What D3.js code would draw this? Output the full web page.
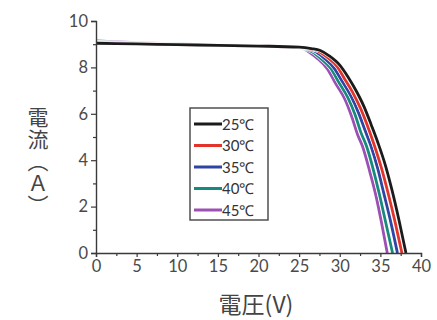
<!DOCTYPE html>
<html><head><meta charset="utf-8">
<script src="https://cdn.jsdelivr.net/npm/d3@7/dist/d3.min.js"></script>
<style>
html,body{margin:0;padding:0;background:#fff;}
svg{display:block;}
</style></head>
<body>
<svg id="c" width="437" height="320"></svg>
<script>
const temps = ["25℃","30℃","35℃","40℃","45℃"];
const colors = ["#1b1b1b","#e3342c","#2f45a3","#178a7c","#9d50b3"];
const xTicks = [0,5,10,15,20,25,30,35,40];
const yTicks = [0,2,4,6,8,10];
const s25 = [[0,9.04],[5,9.01],[10,8.98],[15,8.95],[20,8.92],[25,8.87],[26.5,8.81],[27.6,8.73],[28.7,8.5],[30.0,8.1],[31.0,7.6],[32.1,6.94],[33.0,6.3],[33.9,5.5],[34.7,4.75],[35.6,3.8],[36.4,2.75],[37.3,1.4],[38.15,0]];
const s30 = [[0,9.06],[5,9.02],[10,8.98],[15,8.95],[20,8.92],[25,8.86],[26.3,8.8],[27.3,8.71],[28.4,8.45],[29.7,8.02],[30.6,7.5],[31.7,6.85],[32.6,6.2],[33.5,5.4],[34.2,4.7],[35.1,3.7],[35.9,2.65],[36.8,1.35],[37.65,0]];
const s35 = [[0,9.08],[5,9.03],[10,8.99],[15,8.95],[20,8.92],[25,8.85],[26.1,8.79],[27.0,8.68],[28.0,8.42],[29.3,7.97],[30.3,7.4],[31.4,6.75],[32.3,6.05],[33.1,5.3],[33.8,4.65],[34.7,3.6],[35.4,2.6],[36.3,1.3],[37.1,0]];
const s40 = [[0,9.1],[5,9.05],[10,9.0],[15,8.96],[20,8.92],[25,8.84],[25.9,8.78],[26.7,8.65],[27.6,8.4],[28.9,7.95],[29.9,7.35],[31.0,6.7],[31.9,5.95],[32.6,5.2],[33.3,4.6],[34.2,3.5],[34.9,2.5],[35.7,1.25],[36.5,0]];
const s45 = [[0,9.14],[5,9.07],[10,9.01],[15,8.97],[20,8.93],[25,8.84],[25.7,8.77],[26.4,8.62],[27.2,8.4],[28.5,7.92],[29.5,7.3],[30.6,6.65],[31.5,5.85],[32.2,5.1],[32.8,4.6],[33.7,3.5],[34.5,2.4],[35.2,1.2],[35.85,0]];
const series = [s25,s30,s35,s40,s45];

const svg = d3.select("#c");
const x = d3.scaleLinear().domain([0,40]).range([96,421]);
const y = d3.scaleLinear().domain([0,10]).range([253,21]);
const axisColor = "#3a3a3a";
const numFont = "Lato, 'Open Sans', sans-serif";

const line = d3.line().x(d=>x(d[0])).y(d=>y(d[1])).curve(d3.curveMonotoneX);
const g = svg.append("g");
for (let i = series.length-1; i >= 0; i--) {
  g.append("path").attr("d", line(series[i])).attr("fill","none")
    .attr("stroke","#fff").attr("stroke-width",4).attr("stroke-linejoin","round");
  g.append("path").attr("d", line(series[i])).attr("fill","none")
    .attr("stroke",colors[i]).attr("stroke-width",2.8).attr("stroke-linejoin","round");
}

const xAxis = d3.axisBottom(x).tickValues(xTicks).tickSize(4).tickPadding(3);
const xMinor = d3.axisBottom(x).tickValues(d3.range(2.5,40,5)).tickSize(3).tickFormat("");
const yAxis = d3.axisLeft(y).tickValues(yTicks).tickSize(5).tickPadding(3);
const yMinor = d3.axisLeft(y).tickValues([1,3,5,7,9]).tickSize(3).tickFormat("");
function style(sel){
  sel.select(".domain").attr("stroke",axisColor).attr("stroke-width",1.4);
  sel.selectAll(".tick line").attr("stroke",axisColor).attr("stroke-width",1.2);
  sel.selectAll(".tick text").attr("fill","#4a4a4a").style("font-family",numFont).style("font-size","16.5px");
}
svg.append("g").attr("transform","translate(0,253)").call(xMinor).call(style).select(".domain").remove();
svg.append("g").attr("transform","translate(0,253)").call(xAxis).call(style);
svg.append("g").attr("transform","translate(96,0)").call(yMinor).call(style).select(".domain").remove();
svg.append("g").attr("transform","translate(96,0)").call(yAxis).call(style);

const cjk = "'Noto Sans CJK JP', 'Noto Sans CJK SC', sans-serif";
svg.append("text").attr("x",256).attr("y",313).attr("text-anchor","middle")
  .attr("fill","#444").style("font-family",cjk).style("font-size","23px").text("電圧(V)");
svg.append("text").attr("x",38).attr("y",107)
  .style("writing-mode","vertical-rl").style("text-orientation","mixed")
  .attr("fill","#444").style("font-family",cjk).style("font-size","21px")
  .style("letter-spacing","1px").text("電流︵Ａ︶");

svg.append("rect").attr("x",190).attr("y",108).attr("width",78).attr("height",112)
  .attr("fill","#fff").attr("stroke","#444").attr("stroke-width",1.4);
temps.forEach((t,i)=>{
  const yy = 124 + i*21.5;
  svg.append("line").attr("x1",194).attr("x2",222).attr("y1",yy).attr("y2",yy)
    .attr("stroke",colors[i]).attr("stroke-width",3);
  svg.append("text").attr("x",222).attr("y",yy+5.5).attr("fill","#333")
    .style("font-family",numFont).style("font-size","15px").text(t);
});
</script>
</body></html>
